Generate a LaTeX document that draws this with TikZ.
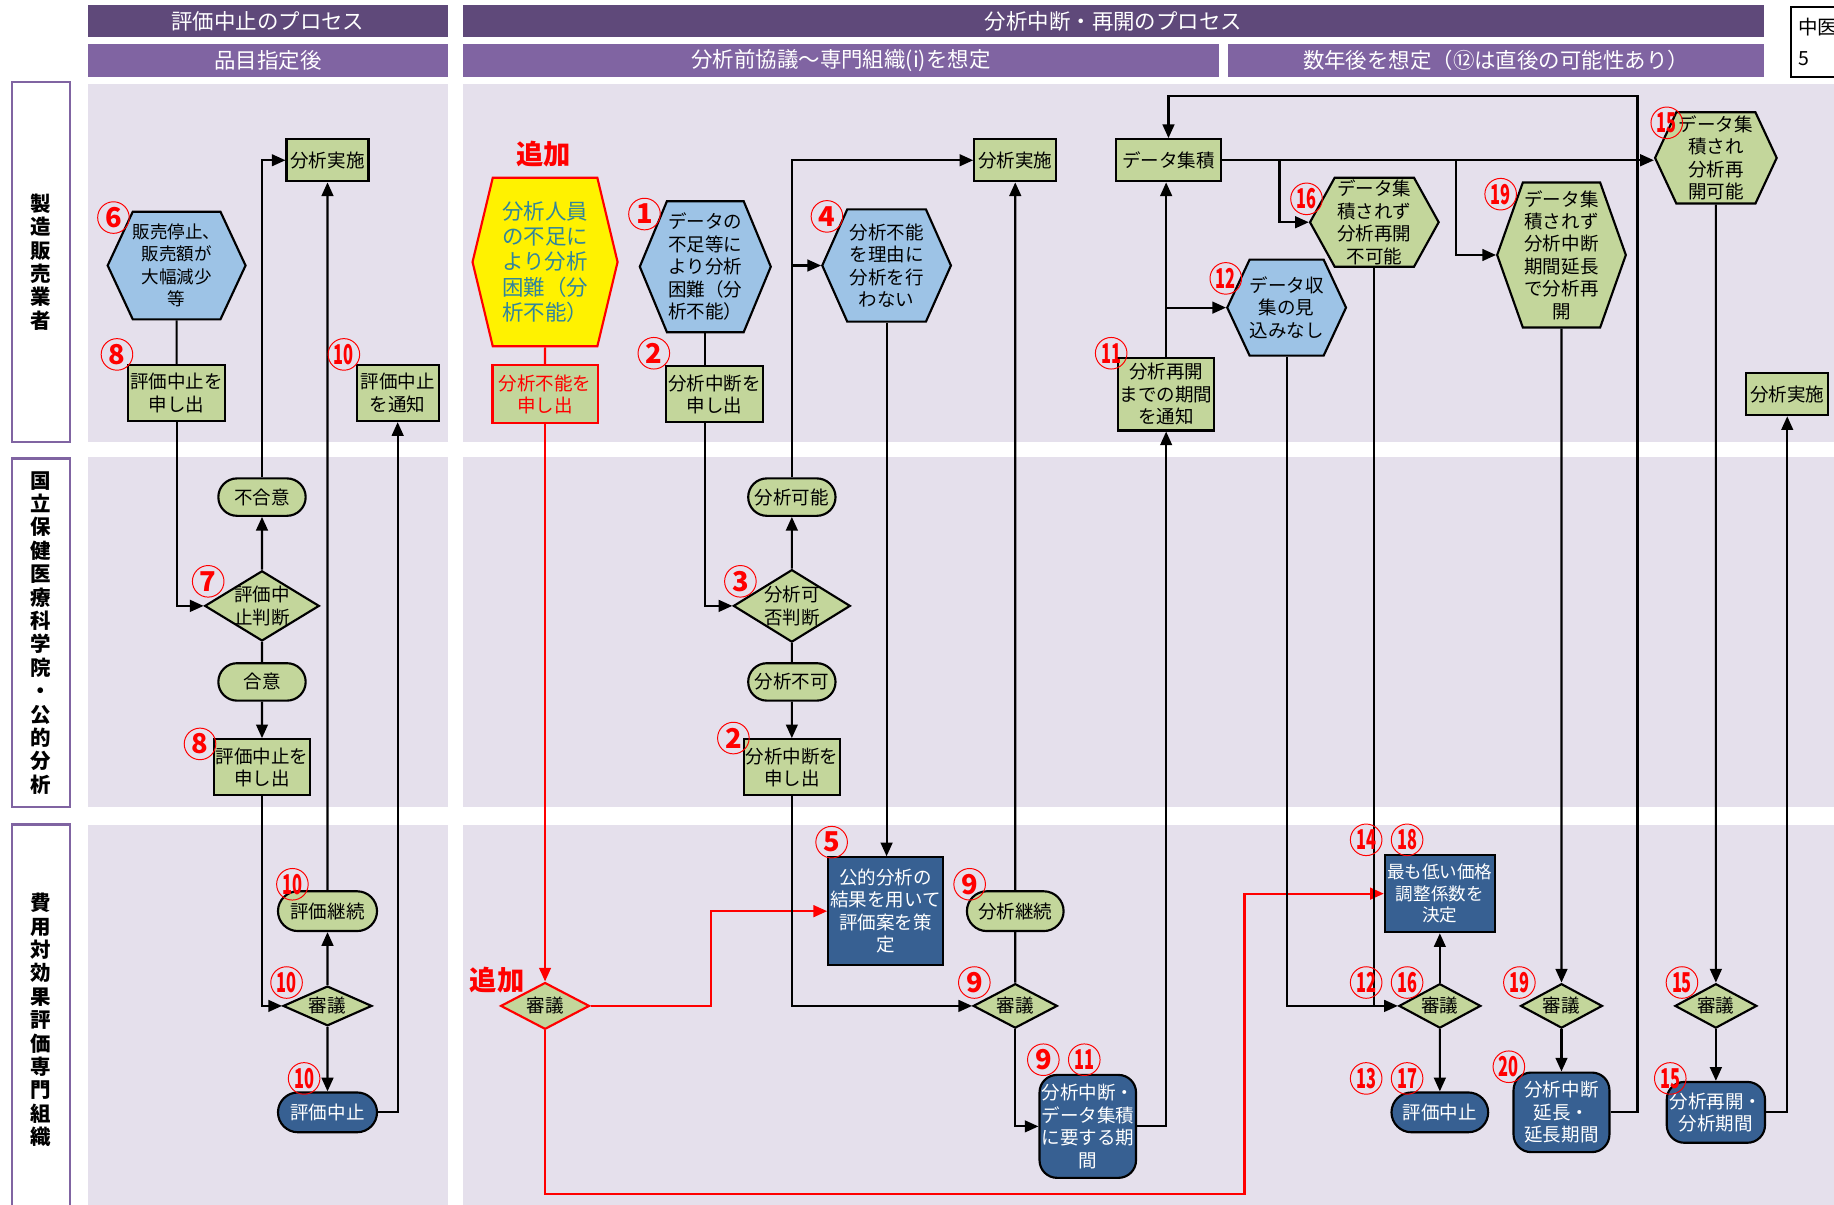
\documentclass[tikz,border=0pt]{standalone}
\usepackage{fontspec}
\setmainfont{Noto Sans CJK JP}
\usetikzlibrary{arrows.meta, positioning, calc, shapes.geometric, shapes.misc, shapes.symbols}

\definecolor{hdrdark}{HTML}{5F497A}
\definecolor{hdrmid}{HTML}{8064A2}
\definecolor{lanebg}{HTML}{E5E0EC}
\definecolor{boxgreen}{HTML}{C3D69B}
\definecolor{hexblue}{HTML}{9DC3E6}
\definecolor{darkblue}{HTML}{376092}
\definecolor{tealtext}{HTML}{31859C}

\newcommand{\txtsz}{\fontsize{9.5pt}{11.5pt}\selectfont}
\newcommand{\nn}[1]{\scalebox{0.6}[1]{#1}}

\begin{document}
\begin{tikzpicture}[
        x=0.6pt, y=-0.6pt, line width=1.1pt,
        hdr/.style 2 args={fill=#1, text=white, minimum width=#2*0.6pt, minimum height=28*0.6pt, inner sep=0pt, font=\fontsize{11pt}{12pt}\selectfont},
        lane/.style={draw=hdrmid, fill=white, line width=1.2pt, minimum width=50*0.6pt, align=center, font=\bfseries\fontsize{10.5pt}{12pt}\selectfont},
        box/.style 2 args={draw, rectangle, fill=boxgreen, minimum width=#1*0.6pt, minimum height=#2*0.6pt, align=center, inner sep=1pt, font=\txtsz},
        dbox/.style 2 args={box={#1}{#2}, fill=darkblue, text=white},
        pill/.style 2 args={draw, rounded rectangle, fill=boxgreen, minimum width=#1*0.6pt, minimum height=#2*0.6pt, inner sep=1pt, font=\txtsz},
        barrel/.style 2 args={draw, rectangle, rounded corners=9pt, fill=darkblue, text=white, minimum width=#1*0.6pt, minimum height=#2*0.6pt, align=center, inner sep=1pt, font=\txtsz},
        hexa/.style n args={3}{draw, signal, signal to=east and west, signal pointer angle=#3, fill=hexblue, minimum width=#1*0.6pt, minimum height=#2*0.6pt, align=center, inner sep=0pt, font=\txtsz},
        dia/.style n args={3}{draw, diamond, fill=boxgreen, minimum width=#1*0.6pt, minimum height=#2*0.6pt, inner sep=0pt, label={[font=\txtsz, align=center]center:#3}},
        num/.style={circle, draw=red, line width=0.5pt, text=red, inner sep=0pt, minimum size=27*0.6pt, font=\bfseries\fontsize{14pt}{14pt}\selectfont},
        arr/.style={-{Triangle[length=7pt, width=6pt]}},
        rarr/.style={arr, draw=red, color=red},
        addlbl/.style={text=red, font=\bfseries\fontsize{14pt}{14pt}\selectfont}
    ]

    \useasboundingbox (0,0) rectangle (1568,1030);

    % lanes
    \foreach \ya/\yb in {72/378, 391/690, 705/1040} {
        \fill[lanebg] (75,\ya) rectangle (383,\yb);
        \fill[lanebg] (396,\ya) rectangle (1580,\yb);
    }

    % headers
    \node[hdr={hdrdark}{308}] (h1l) at (229,18) {評価中止のプロセス};
    \node[hdr={hdrdark}{1112}] (h1r) at (952,18) {分析中断・再開のプロセス};
    \node[hdr={hdrmid}{308}] (h2l) at (229,52) {品目指定後};
    \node[hdr={hdrmid}{646}] (h2m) at (719,52) {分析前協議～専門組織(i)を想定};
    \node[hdr={hdrmid}{458}] (h2r) at (1279,52) {数年後を想定（⑫は直後の可能性あり）};
    \node[draw, fill=white, line width=1pt, anchor=north west, minimum height=60*0.6pt, align=left, text width=50*0.6pt, inner sep=4pt, font=\fontsize{10pt}{12pt}\selectfont] (docid) at (1530,5) {中医\\[4pt]5};

    \node[lane, minimum height=308*0.6pt] (ln1) at (35,224) {製\\造\\販\\売\\業\\者};
    \node[lane, minimum height=298*0.6pt] (ln2) at (35,541) {国\\立\\保\\健\\医\\療\\科\\学\\院\\・\\公\\的\\分\\析};
    \node[lane, minimum height=334*0.6pt] (ln3) at (35,872) {費\\用\\対\\効\\果\\評\\価\\専\\門\\組\\織};

    % left: evaluation stop
    \node[box={70}{36}] (lexe) at (280,137) {分析実施};
    \node[hexa={110}{92}{130}, font=\fontsize{9pt}{11.5pt}\selectfont] (l6) at (151,227) {販売停止、\\販売額が\\大幅減少\\等};
    \node[box={80}{48}] (l8a) at (151,336) {評価中止を\\申し出};
    \node[box={70}{48}] (l10n) at (340,336) {評価中止\\を通知};
    \node[pill={78}{32}] (lng) at (224,425) {不合意};
    \node[dia={98}{60}{評価中\\止判断}] (l7) at (224,518) {};
    \node[pill={78}{32}] (lok) at (224,583) {合意};
    \node[box={80}{48}] (l8b) at (224,656) {評価中止を\\申し出};
    \node[pill={88}{34}] (lcont) at (280,779) {評価継続};
    \node[dia={76}{34}{審議}] (l10d) at (280,860) {};
    \node[pill={88}{34}, fill=darkblue, text=white] (lstop) at (280,951) {評価中止};

    % right: analysis pause and restart
    \node[addlbl] (add1) at (465,132) {追加};
    \node[hexa={124}{144}{153}, fill=yellow, draw=red, text=tealtext, font=\fontsize{11pt}{13pt}\selectfont] (yhex) at (466,224) {分析人員\\の不足に\\より分析\\困難（分\\析不能）};
    \node[box={90}{50}, draw=red, text=red] (ybox) at (466,337) {分析不能を\\申し出};
    \node[addlbl] (add2) at (425,838) {追加};
    \node[dia={76}{40}{審議}, draw=red] (yd) at (466,860) {};
    \node[hexa={112}{112}{135}] (r1) at (603,228) {データの\\不足等に\\より分析\\困難（分\\析不能）};
    \node[box={82}{48}] (r2a) at (611,337) {分析中断を\\申し出};
    \node[pill={78}{32}] (rposs) at (677,425) {分析可能};
    \node[dia={100}{62}{分析可\\否判断}] (r3) at (677,518) {};
    \node[pill={78}{32}] (rimp) at (677,583) {分析不可};
    \node[box={82}{48}] (r2b) at (677,656) {分析中断を\\申し出};
    \node[hexa={110}{96}{132}] (r4) at (758,227) {分析不能\\を理由に\\分析を行\\わない};
    \node[dbox={96}{92}] (r5) at (757,779) {公的分析の\\結果を用いて\\評価案を策\\定};
    \node[box={70}{36}] (rexe) at (868,137) {分析実施};
    \node[pill={86}{34}] (r9c) at (868,779) {分析継続};
    \node[dia={72}{38}{審議}] (r9d) at (868,860) {};
    \node[barrel={82}{88}] (r911) at (930,963) {分析中断・\\データ集積\\に要する期\\間};
    \node[box={76}{62}] (r11) at (997,337) {分析再開\\までの期間\\を通知};
    \node[box={90}{36}] (racc) at (999,137) {データ集積};
    \node[hexa={96}{82}{130}] (r12) at (1100,263) {データ収\\集の見\\込みなし};
    \node[hexa={110}{76}{122}, fill=boxgreen] (r16) at (1175,190) {データ集\\積されず\\分析再開\\不可能};
    \node[hexa={110}{124}{141}, fill=boxgreen] (r19) at (1335,218) {データ集\\積されず\\分析中断\\期間延長\\で分析再\\開};
    \node[hexa={104}{78}{130}, fill=boxgreen] (r15) at (1467,135) {データ集\\積され\\分析再\\開可能};
    \node[box={70}{36}] (rexe2) at (1528,337) {分析実施};
    \node[dbox={94}{66}, font=\fontsize{9pt}{11pt}\selectfont] (r1418) at (1231,764) {最も低い価格\\調整係数を\\決定};
    \node[dia={70}{38}{審議}] (r1216) at (1231,860) {};
    \node[pill={86}{34}, fill=darkblue, text=white] (r1317) at (1231,951) {評価中止};
    \node[dia={70}{38}{審議}] (r19d) at (1335,860) {};
    \node[barrel={82}{68}] (r20) at (1335,951) {分析中断\\延長・\\延長期間};
    \node[dia={70}{38}{審議}] (r15d) at (1467,860) {};
    \node[barrel={84}{52}] (r15e) at (1467,951) {分析再開・\\分析期間};

    % left connectors
    \draw (l6) -- (l8a);
    \draw[arr] (l8a.south) |- (l7.west);
    \draw[arr] (l7) -- (lng);
    \draw[arr] (lng.north) |- (lexe.west);
    \draw (l7) -- (lok);
    \draw[arr] (lok) -- (l8b);
    \draw[arr] (l8b.south) |- (l10d.west);
    \draw[arr] (l10d) -- (lcont);
    \draw[arr] (l10d) -- (lstop);
    \draw[arr] (lcont) -- (lexe);
    \draw[arr] (lstop.east) -| (l10n.south);

    % right connectors
    \draw[red] (yhex) -- (ybox);
    \draw[rarr] (ybox) -- (yd);
    \draw[rarr] (yd.east) -- ++(103,0) |- (r5.west);
    \draw[rarr] (yd.south) -- ++(0,140) -- ++(598,0) |- (r1418.west);
    \draw (r1.south) -- (r1.south |- r2a.north);
    \draw[arr] (r1.south |- r2a.south) |- (r3.west);
    \draw[arr] (r3) -- (rposs);
    \draw[arr] (rposs.north) |- (rexe.west);
    \draw[arr] (rposs.north |- r4.west) -- (r4.west);
    \draw (r3) -- (rimp);
    \draw[arr] (rimp) -- (r2b);
    \draw[arr] (r2b.south) |- (r9d.west);
    \draw[arr] (r4.south) -- (r4.south |- r5.north);
    \draw[arr] (r9c) -- (rexe);
    \draw (r9d) -- (r9c);
    \draw[arr] (r9d.south) |- (r911.west);
    \draw[arr] (r911.east) -| (r11.south);
    \draw[arr] (r11.north) -- (r11.north |- racc.south);
    \draw[arr] (r11.north |- r12.west) -- (r12.west);
    \draw[arr] (racc.east) -- (racc.east -| r15.west);
    \draw[arr] (racc.east) ++(49,0) |- (r16.west);
    \draw[arr] (racc.east) ++(200,0) |- (r19.west);
    \draw[arr] (r12.south) |- (r1216.west);
    \draw (r16.south) -- (r16.south |- r1216.west);
    \draw[arr] (r1216) -- (r1418);
    \draw[arr] (r1216) -- (r1317);
    \draw[arr] (r19) -- (r19d);
    \draw[arr] (r19d) -- (r20);
    \draw[arr] (r20.east) -| (1400,82) -| (racc.north);
    \draw[arr] (r15) -- (r15d);
    \draw[arr] (r15d) -- (r15e);
    \draw[arr] (r15e.east) -| (rexe2.south);

    % step numbers
    \node[num] (c6) at (97,186) {6};
    \node[num] (c8a) at (100,303) {8};
    \node[num] (c10a) at (294,303) {\nn{10}};
    \node[num] (c7) at (178,497) {7};
    \node[num] (c8b) at (171,636) {8};
    \node[num] (c10b) at (250,756) {\nn{10}};
    \node[num] (c10c) at (245,840) {\nn{10}};
    \node[num] (c10d) at (260,922) {\nn{10}};
    \node[num] (c1) at (551,183) {1};
    \node[num] (c2a) at (559,302) {2};
    \node[num] (c4) at (707,185) {4};
    \node[num] (c3) at (633,497) {3};
    \node[num] (c2b) at (627,631) {2};
    \node[num] (c5) at (711,720) {5};
    \node[num] (c9a) at (829,756) {9};
    \node[num] (c9b) at (833,840) {9};
    \node[num] (c9c) at (892,906) {9};
    \node[num] (c11a) at (927,906) {\nn{11}};
    \node[num] (c11b) at (950,302) {\nn{11}};
    \node[num] (c12a) at (1048,238) {\nn{12}};
    \node[num] (c16a) at (1117,170) {\nn{16}};
    \node[num] (c19a) at (1283,166) {\nn{19}};
    \node[num] (c15a) at (1425,105) {\nn{15}};
    \node[num] (c14) at (1168,718) {\nn{14}};
    \node[num] (c18) at (1203,718) {\nn{18}};
    \node[num] (c12b) at (1168,840) {\nn{12}};
    \node[num] (c16b) at (1203,840) {\nn{16}};
    \node[num] (c13) at (1168,922) {\nn{13}};
    \node[num] (c17) at (1203,922) {\nn{17}};
    \node[num] (c19b) at (1299,840) {\nn{19}};
    \node[num] (c20) at (1290,912) {\nn{20}};
    \node[num] (c15b) at (1438,840) {\nn{15}};
    \node[num] (c15c) at (1428,922) {\nn{15}};

\end{tikzpicture}
\end{document}
